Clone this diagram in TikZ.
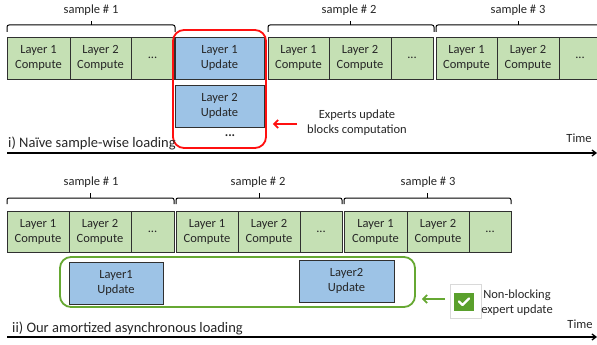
\documentclass[tikz,border=0pt]{standalone}
\usepackage{fontspec}
\setmainfont{Carlito}
\usetikzlibrary{arrows.meta}
\definecolor{cgreen}{HTML}{C5E0B4}
\definecolor{cblue}{HTML}{9DC3E6}
\definecolor{cborder}{HTML}{303030}
\definecolor{cred}{HTML}{FF1010}
\definecolor{cgframe}{HTML}{66A832}
\definecolor{ccheck}{HTML}{5AA02C}
\tikzset{
  box/.style={draw=cborder, line width=0.9pt, inner sep=0pt, align=center,
    font=\fontsize{12.5}{15}\selectfont, text=black!85},
  comp/.style={box, fill=cgreen, minimum height=42pt},
  upd/.style={box, fill=cblue, minimum height=42pt},
  lbl/.style={font=\fontsize{12.5}{15}\selectfont, inner sep=0pt, align=center, text=black!85},
  capt/.style={font=\fontsize{14.5}{17}\selectfont, inner sep=0pt, anchor=west, text=black!85},
  sbrace/.style={line width=1pt, rounded corners=2pt},
  timeline/.style={line width=1.3pt, -{Straight Barb[length=4pt,width=6pt]}},
  rframe/.style={rounded corners=11pt, line width=1.8pt}
}
\begin{document}
\begin{tikzpicture}[x=1pt,y=-1pt]
\useasboundingbox (0,0) rectangle (597,345);
\clip (0,0) rectangle (597,345);
% ---------- top part ----------
\node[comp, minimum width=63pt] (t11) at (38.5,58) {Layer 1\\Compute};
\node[comp, minimum width=61pt] (t12) at (100.5,58) {Layer 2\\Compute};
\node[comp, minimum width=43pt] (t13) at (152.5,58) {...};
\node[upd, minimum width=89pt] (tu1) at (219.5,58) {Layer 1\\Update};
\node[upd, minimum width=89pt] (tu2) at (219.5,106) {Layer 2\\Update};
\node[lbl, font=\fontsize{13}{15}\bfseries] (tud) at (230,136) {...};
\node[comp, minimum width=61pt] (t21) at (298.5,58) {Layer 1\\Compute};
\node[comp, minimum width=62pt] (t22) at (360,58) {Layer 2\\Compute};
\node[comp, minimum width=42pt] (t23) at (412,58) {...};
\node[comp, minimum width=61pt] (t31) at (466.5,58) {Layer 1\\Compute};
\node[comp, minimum width=62pt] (t32) at (528,58) {Layer 2\\Compute};
\node[comp, minimum width=42pt] (t33) at (580,58) {...};
% red frame
\node[draw=cred, rframe, minimum width=93pt, minimum height=118pt, inner sep=0pt] (rbox) at (219.5,89) {};
% braces top
\draw[sbrace] (7,32) |- (175,25) -- (175,32);
\draw[line width=1pt] (91,25) -- (91,21);
\node[lbl] (s1t) at (91,10) {sample \# 1};
\draw[sbrace] (268,32) |- (434,25) -- (434,32);
\draw[line width=1pt] (350.5,25) -- (350.5,21);
\node[lbl] (s2t) at (349,10) {sample \# 2};
\draw[sbrace] (436,32) |- (601,25) -- (601,32);
\draw[line width=1pt] (518,25) -- (518,21);
\node[lbl] (s3t) at (518,10) {sample \# 3};
% red arrow and note
\node[lbl] (note1) at (357,123) {Experts update\\blocks computation};
\coordinate (rtail) at (297,124);
\draw[cred, line width=1.8pt, -{Straight Barb[length=4pt,width=8pt]}] (rtail) -- ([xshift=6pt]rtail -| rbox.east);
% caption and time line
\node[capt] (cap1) at (8,143) {i) Naïve sample-wise loading};
\node[lbl] (time1) at (579,138) {Time};
\coordinate (tl1a) at (7,153);
\coordinate (tl1b) at (597,153);
\draw[timeline] (tl1a) -- (tl1b);
% ---------- bottom part ----------
\node[comp, minimum width=62pt, minimum height=41pt] (b11) at (38,231.5) {Layer 1\\Compute};
\node[comp, minimum width=62pt, minimum height=41pt] (b12) at (100,231.5) {Layer 2\\Compute};
\node[comp, minimum width=43pt, minimum height=41pt] (b13) at (152.5,231.5) {...};
\node[comp, minimum width=62pt, minimum height=41pt] (b21) at (207,231.5) {Layer 1\\Compute};
\node[comp, minimum width=62pt, minimum height=41pt] (b22) at (269,231.5) {Layer 2\\Compute};
\node[comp, minimum width=42pt, minimum height=41pt] (b23) at (321,231.5) {...};
\node[comp, minimum width=63pt, minimum height=41pt] (b31) at (375.5,231.5) {Layer 1\\Compute};
\node[comp, minimum width=62pt, minimum height=41pt] (b32) at (438,231.5) {Layer 2\\Compute};
\node[comp, minimum width=42pt, minimum height=41pt] (b33) at (490,231.5) {...};
% braces bottom
\draw[sbrace] (7,204) |- (174,198) -- (174,204);
\draw[line width=1pt] (90.5,198) -- (90.5,193);
\node[lbl] (s1b) at (91,182) {sample \# 1};
\draw[sbrace] (176,204) |- (342,198) -- (342,204);
\draw[line width=1pt] (259,198) -- (259,193);
\node[lbl] (s2b) at (258,182) {sample \# 2};
\draw[sbrace] (344,204) |- (511,198) -- (511,204);
\draw[line width=1pt] (427.5,198) -- (427.5,193);
\node[lbl] (s3b) at (428,182) {sample \# 3};
% green frame and updates
\node[draw=cgframe, rframe, minimum width=355pt, minimum height=50pt, inner sep=0pt] (gbox) at (237.5,282) {};
\node[upd, minimum width=94pt] (bu1) at (116,283) {Layer1\\Update};
\node[upd, minimum width=95pt] (bu2) at (346.5,281) {Layer2\\Update};
% checkbox
\node[draw=black!15, line width=0.6pt, minimum width=31pt, minimum height=34pt, inner sep=0pt] (chk) at (465.5,301) {};
\node[fill=ccheck, minimum width=20pt, minimum height=18pt, inner sep=0pt] (chkg) at (464,302) {};
\draw[white, line width=2.2pt, line cap=round, line join=round] ([xshift=-5pt,yshift=0.5pt]chkg.center) -- ([xshift=-1.5pt,yshift=-3pt]chkg.center) -- ([xshift=5pt,yshift=3.5pt]chkg.center);
\node[lbl] (note2) at (517,302.5) {Non-blocking\\expert update};
\coordinate (gtail) at (445,299);
\draw[cgframe, line width=1.8pt, -{Straight Barb[length=4pt,width=8pt]}] (gtail) -- ([xshift=6pt]gtail -| gbox.east);
% caption and time line
\node[capt] (cap2) at (12,328) {ii) Our amortized asynchronous loading};
\node[lbl] (time2) at (580,324) {Time};
\coordinate (tl2a) at (7,337);
\coordinate (tl2b) at (597,337);
\draw[timeline] (tl2a) -- (tl2b);
\end{tikzpicture}
\end{document}
